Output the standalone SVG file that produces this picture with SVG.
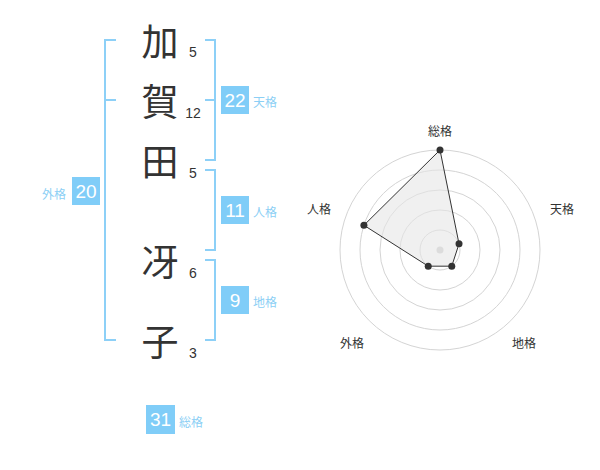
<svg xmlns="http://www.w3.org/2000/svg" width="600" height="470" viewBox="0 0 600 470">
<style>
.k{font-family:"Noto Sans CJK JP","Noto Sans",sans-serif;font-size:37px;fill:#333;text-anchor:middle;dominant-baseline:central}
.n{font-family:"Liberation Sans",Arial,sans-serif;font-size:14px;fill:#333;text-anchor:middle}
.br{fill:none;stroke:#8dd0f7;stroke-width:2}
.box{fill:#80cdf8}
.bt{font-family:"Liberation Sans",Arial,sans-serif;font-size:19px;fill:#fff;text-anchor:middle}
.lb{font-family:"Noto Sans CJK JP","Noto Sans",sans-serif;font-size:12px;fill:#8ccff5;dominant-baseline:central}
.rl{font-family:"Noto Sans CJK JP","Noto Sans",sans-serif;font-size:12px;fill:#333;text-anchor:middle;dominant-baseline:central}
.ring{fill:none;stroke:#d4d4d4;stroke-width:1}
.pt{fill:#333}
</style>
<rect width="600" height="470" fill="#fff"/>
<g id="chars">
<text class="k" x="160" y="40">加</text>
<text class="k" x="160" y="100">賀</text>
<text class="k" x="160" y="160">田</text>
<text class="k" x="160" y="260">冴</text>
<text class="k" x="160" y="340">子</text>
<text class="n" x="193" y="57">5</text>
<text class="n" x="193" y="118">12</text>
<text class="n" x="193" y="178">5</text>
<text class="n" x="193" y="278">6</text>
<text class="n" x="193" y="358">3</text>
</g>
<g id="connectors">
<path class="br" d="M116,40 H105 V340 H116 M105,100 H116"/>
<path class="br" d="M205,40 H215 V160 H205 M205,100 H215"/>
<path class="br" d="M205,170 H215 V250 H205"/>
<path class="br" d="M205,260 H215 V340 H205"/>
</g>
<g id="tenkaku">
<rect class="box" x="221" y="86" width="28" height="28"/>
<text class="bt" x="235" y="107">22</text>
<text class="lb" x="253" y="101">天格</text>
</g>
<g id="jinkaku">
<rect class="box" x="221" y="196" width="28" height="28"/>
<text class="bt" x="235" y="217">11</text>
<text class="lb" x="253" y="211">人格</text>
</g>
<g id="chikaku">
<rect class="box" x="221" y="286" width="28" height="28"/>
<text class="bt" x="235" y="307">9</text>
<text class="lb" x="253" y="301">地格</text>
</g>
<g id="gaikaku">
<rect class="box" x="72" y="177" width="28" height="28"/>
<text class="bt" x="86" y="198">20</text>
<text class="lb" x="66" y="193" text-anchor="end">外格</text>
</g>
<g id="soukaku">
<rect class="box" x="146" y="405" width="29" height="29"/>
<text class="bt" x="160.5" y="426">31</text>
<text class="lb" x="179" y="421">総格</text>
</g>
<g id="radar">
<circle class="ring" cx="440" cy="250" r="20"/>
<circle class="ring" cx="440" cy="250" r="40"/>
<circle class="ring" cx="440" cy="250" r="60"/>
<circle class="ring" cx="440" cy="250" r="80"/>
<circle class="ring" cx="440" cy="250" r="100"/>
<circle cx="440" cy="250" r="3.5" fill="#ccc"/>
<polygon points="440,150 459.02,243.82 451.76,266.18 428.24,266.18 363.91,225.28" fill="#e6e6e6" fill-opacity="0.6" stroke="#333" stroke-width="1"/>
<circle class="pt" cx="440" cy="150" r="3.5"/>
<circle class="pt" cx="459.02" cy="243.82" r="3.5"/>
<circle class="pt" cx="451.76" cy="266.18" r="3.5"/>
<circle class="pt" cx="428.24" cy="266.18" r="3.5"/>
<circle class="pt" cx="363.91" cy="225.28" r="3.5"/>
<text class="rl" x="440" y="130">総格</text>
<text class="rl" x="562" y="208">天格</text>
<text class="rl" x="319" y="208">人格</text>
<text class="rl" x="352" y="342">外格</text>
<text class="rl" x="524" y="342">地格</text>
</g>
</svg>
